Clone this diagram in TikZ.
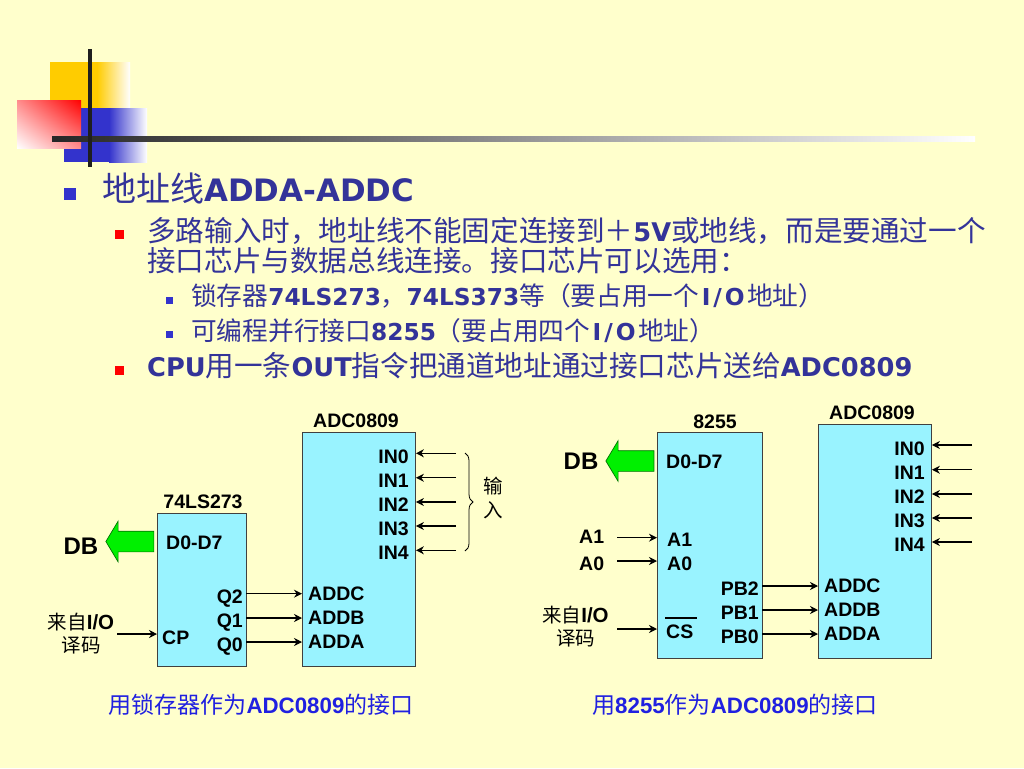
\documentclass[tikz,border=0pt]{standalone}
\usepackage{fontspec}
\setmainfont{Liberation Sans}
\newfontfamily\bodyfont{DejaVu Sans}
\newfontfamily\cjk[BoldFont={Noto Sans CJK SC}]{Noto Sans CJK SC}
\newcommand{\cjsize}[2]{{\cjk\fontsize{#1}{#1}\selectfont #2}}
\newcommand{\cjhead}[1]{\cjsize{34}{#1}}
\newcommand{\cjtwo}[1]{\cjsize{28.6}{#1}}
\newcommand{\cjthree}[1]{\cjsize{25.7}{#1}}
\newcommand{\cjcap}[1]{\cjsize{23}{#1}}
\newcommand{\cjsrc}[1]{\cjsize{19.5}{#1}}
\newcommand{\widerio}{\kern2.5pt I\kern3pt/\kern3pt O\kern2.5pt}
\usetikzlibrary{arrows.meta,shapes.arrows,shadings,decorations.pathreplacing}
\definecolor{paper}{HTML}{FFFFCC}
\definecolor{inktext}{HTML}{333399}
\definecolor{bulletblue}{HTML}{3333CC}
\definecolor{bulletred}{HTML}{FF0000}
\definecolor{chipfill}{HTML}{99F3FF}
\definecolor{busgreen}{HTML}{00F000}
\definecolor{logoyellow}{HTML}{FFCC00}
\definecolor{captionblue}{HTML}{2020E0}

\begin{document}
\begin{tikzpicture}[
  x=1pt, y=-1pt,
  >={Stealth[length=8pt,width=8pt]},
  chipbox/.style={
    draw=black!75,
    fill=chipfill,
    line width=0.9pt
  },
  pinlabel/.style={
    font=\fontsize{19.5}{21}\selectfont\bfseries,
    inner sep=0pt,
    text height=14pt,
    text depth=0pt,
    text=black
  },
  chiptitle/.style={
    pinlabel
  },
  dblabel/.style={
    font=\fontsize{24}{26}\selectfont\bfseries,
    inner sep=0pt,
    text=black
  },
  sourcelabel/.style={
    font=\fontsize{20.5}{21}\selectfont\bfseries,
    inner sep=0pt,
    text=black
  },
  pinarrow/.style={
    ->,
    line width=1.1pt,
    draw=black
  },
  busarrow/.style={
    shape=single arrow,
    shape border rotate=180,
    draw=green!45!black,
    fill=busgreen,
    line width=0.7pt,
    inner sep=0pt,
    minimum height=48pt,
    single arrow head extend=10pt,
    single arrow tip angle=118,
    single arrow head indent=0pt
  },
  levelone/.style={
    font=\fontsize{30.9}{36}\selectfont\bodyfont\bfseries,
    anchor=west,
    inner sep=0pt,
    text height=30pt,
    text depth=4pt,
    text=inktext
  },
  leveltwo/.style={
    font=\fontsize{25.7}{30}\selectfont\bodyfont\bfseries,
    anchor=west,
    inner sep=0pt,
    text height=25pt,
    text depth=3.2pt,
    text=inktext
  },
  levelthree/.style={
    font=\fontsize{23.3}{27}\selectfont\bodyfont\bfseries,
    anchor=west,
    inner sep=0pt,
    text height=22pt,
    text depth=2.5pt,
    text=inktext
  },
  captionlabel/.style={
    font=\fontsize{22.3}{24}\selectfont\bfseries,
    inner sep=0pt,
    text height=20pt,
    text depth=2.5pt,
    text=captionblue
  },
  squarebullet/.style={
    fill=#1,
    inner sep=0pt,
    minimum size=9pt
  }
]
  \useasboundingbox (0,0) rectangle (1024,768);
  \fill[paper] (0,0) rectangle (1024,768);

  % =========================================================================
  % CORNER LOGO
  % =========================================================================
  \fill[logoyellow] (50,62) rectangle (98,138);
  \shade[left color=logoyellow, right color=white] (97,62) rectangle (130,138);
  \fill[bulletblue] (64,108) rectangle (110,162);
  \shade[left color=bulletblue, right color=white] (109,108) rectangle (147,162);
  \shade[lower left=white, upper right=red, upper left=red!45, lower right=red!45]
    (17,100) rectangle (81,148);
  \shade[left color=black!85, middle color=black!60, right color=white]
    (52,136.5) rectangle (975,141.5);
  \fill[black!88] (88.3,49) rectangle (91.7,167);

  % =========================================================================
  % BULLET TEXT
  % =========================================================================
  \node[squarebullet=bulletblue, minimum size=12pt] (bullet_a) at (70,194) {};
  \node[levelone] (title_addr) at (102,188.5) {\cjhead{地址线}ADDA-ADDC};

  \node[squarebullet=bulletred] (bullet_b) at (119.5,234.5) {};
  \node[leveltwo] (line_multi) at (147,231)
    {\cjtwo{多路输入时，地址线不能固定连接到＋}5V\cjtwo{或地线，而是要通过一个}};
  \node[leveltwo] (line_multib) at (147,261)
    {\cjtwo{接口芯片与数据总线连接。接口芯片可以选用：}};

  \node[squarebullet=bulletblue, minimum size=7pt] (bullet_c) at (169.7,300.5) {};
  \node[levelthree] (line_latch) at (191,295.7)
    {\cjthree{锁存器}74LS273\cjthree{，}74LS373\cjthree{等（要占用一个}\widerio\cjthree{地址）}};
  \node[squarebullet=bulletblue, minimum size=7pt] (bullet_d) at (169.7,334.5) {};
  \node[levelthree] (line_ppi) at (191,330.5)
    {\cjthree{可编程并行接口}8255\cjthree{（要占用四个}\widerio\cjthree{地址）}};

  \node[squarebullet=bulletred] (bullet_e) at (119.5,370.5) {};
  \node[leveltwo] (line_cpu) at (147,365.5)
    {CPU\cjtwo{用一条}OUT\cjtwo{指令把通道地址通过接口芯片送给}ADC0809};

  % =========================================================================
  % LEFT CIRCUIT: 74LS273
  % =========================================================================
  \node[chipbox, minimum width=89pt, minimum height=153pt, inner sep=0pt, anchor=north west] (latch) at (157,513) {};
  \node[chipbox, minimum width=113pt, minimum height=234pt, inner sep=0pt, anchor=north west] (adc_l) at (302,432) {};
  \node[chiptitle] (latch_title) at (203,501.5) {74LS273};
  \node[chiptitle] (adc_l_title) at (356,420.7) {ADC0809};

  \node[busarrow] (bus_l) at (133,541.5) {\rule{0pt}{20pt}};
  \node[dblabel] (db_l) at (81,546) {DB};
  \node[pinlabel, anchor=west] (latch_d) at (166,542) {D0-D7};
  \node[pinlabel, anchor=west] (latch_cp) at (162,637) {CP};
  \node[pinlabel, anchor=east] (latch_q2) at (243,596.7) {Q2};
  \node[pinlabel, anchor=east] (latch_q1) at (243,620.7) {Q1};
  \node[pinlabel, anchor=east] (latch_q0) at (243,644.7) {Q0};
  \node[pinlabel, anchor=west] (adc_l_c) at (308,593) {ADDC};
  \node[pinlabel, anchor=west] (adc_l_b) at (308,617) {ADDB};
  \node[pinlabel, anchor=west] (adc_l_a) at (308,641) {ADDA};
  \node[pinlabel, anchor=east] (adc_l_in0) at (409,456) {IN0};
  \node[pinlabel, anchor=east] (adc_l_in1) at (409,480) {IN1};
  \node[pinlabel, anchor=east] (adc_l_in2) at (409,504) {IN2};
  \node[pinlabel, anchor=east] (adc_l_in3) at (409,528) {IN3};
  \node[pinlabel, anchor=east] (adc_l_in4) at (409,552) {IN4};

  \node[sourcelabel] (src_l) at (81,621.7) {\cjsrc{来自}I/O};
  \node[sourcelabel] (src_lb) at (81,645) {\cjsrc{译码}};
  \coordinate (src_l_end) at (117,634);
  \draw[pinarrow] (src_l_end) -- (src_l_end -| latch.west);

  \draw[pinarrow] (246,593.7) -- (302,593.7);
  \draw[pinarrow] (246,618) -- (302,618);
  \draw[pinarrow] (246,642) -- (302,642);

  \coordinate (in_l0) at (456,453.3);
  \coordinate (in_l1) at (456,477.7);
  \coordinate (in_l2) at (456,502);
  \coordinate (in_l3) at (456,526);
  \coordinate (in_l4) at (456,550.3);
  \draw[pinarrow] (in_l0) -- (in_l0 -| adc_l.east);
  \draw[pinarrow] (in_l1) -- (in_l1 -| adc_l.east);
  \draw[pinarrow] (in_l2) -- (in_l2 -| adc_l.east);
  \draw[pinarrow] (in_l3) -- (in_l3 -| adc_l.east);
  \draw[pinarrow] (in_l4) -- (in_l4 -| adc_l.east);

  \draw[line width=0.8pt, decorate, decoration={brace, amplitude=8pt}] (465,453) -- (465,551);
  \node[sourcelabel] (input_a) at (493,486) {\cjsrc{输}};
  \node[sourcelabel] (input_b) at (493,510) {\cjsrc{入}};

  \node[captionlabel] (caption_l) at (261,705) {\cjcap{用锁存器作为}ADC0809\cjcap{的接口}};

  % =========================================================================
  % RIGHT CIRCUIT: 8255
  % =========================================================================
  \node[chipbox, minimum width=105pt, minimum height=226pt, inner sep=0pt, anchor=north west] (ppi) at (657,432) {};
  \node[chipbox, minimum width=113pt, minimum height=234pt, inner sep=0pt, anchor=north west] (adc_r) at (818,424) {};
  \node[chiptitle] (ppi_title) at (715,421) {8255};
  \node[chiptitle] (adc_r_title) at (872,412.8) {ADC0809};

  \node[busarrow] (bus_r) at (633,461) {\rule{0pt}{20pt}};
  \node[dblabel] (db_r) at (581,461) {DB};
  \node[pinlabel, anchor=west] (ppi_d) at (666,461.5) {D0-D7};
  \node[pinlabel, anchor=west] (ppi_a1) at (667,539.7) {A1};
  \node[pinlabel, anchor=west] (ppi_a0) at (667,563.7) {A0};
  \node[pinlabel, anchor=west] (ppi_cs) at (666,631.3) {CS};
  \draw[line width=2.6pt, black] (665,618) -- (697,618);
  \node[pinlabel, anchor=east] (ppi_pb2) at (759,588.7) {PB2};
  \node[pinlabel, anchor=east] (ppi_pb1) at (759,612.7) {PB1};
  \node[pinlabel, anchor=east] (ppi_pb0) at (759,636.7) {PB0};
  \node[pinlabel, anchor=west] (adc_r_c) at (824,585.5) {ADDC};
  \node[pinlabel, anchor=west] (adc_r_b) at (824,609.5) {ADDB};
  \node[pinlabel, anchor=west] (adc_r_a) at (824,633.5) {ADDA};
  \node[pinlabel, anchor=east] (adc_r_in0) at (925,448) {IN0};
  \node[pinlabel, anchor=east] (adc_r_in1) at (925,472) {IN1};
  \node[pinlabel, anchor=east] (adc_r_in2) at (925,496) {IN2};
  \node[pinlabel, anchor=east] (adc_r_in3) at (925,520) {IN3};
  \node[pinlabel, anchor=east] (adc_r_in4) at (925,544) {IN4};

  \node[pinlabel, anchor=west] (a1_in) at (579,536) {A1};
  \node[pinlabel, anchor=west] (a0_in) at (579,563.5) {A0};
  \node[sourcelabel] (src_r) at (575.5,615) {\cjsrc{来自}I/O};
  \node[sourcelabel] (src_rb) at (575.5,638) {\cjsrc{译码}};

  \coordinate (a1_end) at (617,537.7);
  \coordinate (a0_end) at (617,561);
  \coordinate (src_r_end) at (617,629);
  \draw[pinarrow] (a1_end) -- (a1_end -| ppi.west);
  \draw[pinarrow] (a0_end) -- (a0_end -| ppi.west);
  \draw[pinarrow] (src_r_end) -- (src_r_end -| ppi.west);

  \draw[pinarrow] (762,586) -- (818,586);
  \draw[pinarrow] (762,610) -- (818,610);
  \draw[pinarrow] (762,634) -- (818,634);

  \coordinate (in_r0) at (972,445);
  \coordinate (in_r1) at (972,469.7);
  \coordinate (in_r2) at (972,494);
  \coordinate (in_r3) at (972,518);
  \coordinate (in_r4) at (972,542);
  \draw[pinarrow] (in_r0) -- (in_r0 -| adc_r.east);
  \draw[pinarrow] (in_r1) -- (in_r1 -| adc_r.east);
  \draw[pinarrow] (in_r2) -- (in_r2 -| adc_r.east);
  \draw[pinarrow] (in_r3) -- (in_r3 -| adc_r.east);
  \draw[pinarrow] (in_r4) -- (in_r4 -| adc_r.east);

  \node[captionlabel] (caption_r) at (735,705) {\cjcap{用}8255\cjcap{作为}ADC0809\cjcap{的接口}};

\end{tikzpicture}
\end{document}
